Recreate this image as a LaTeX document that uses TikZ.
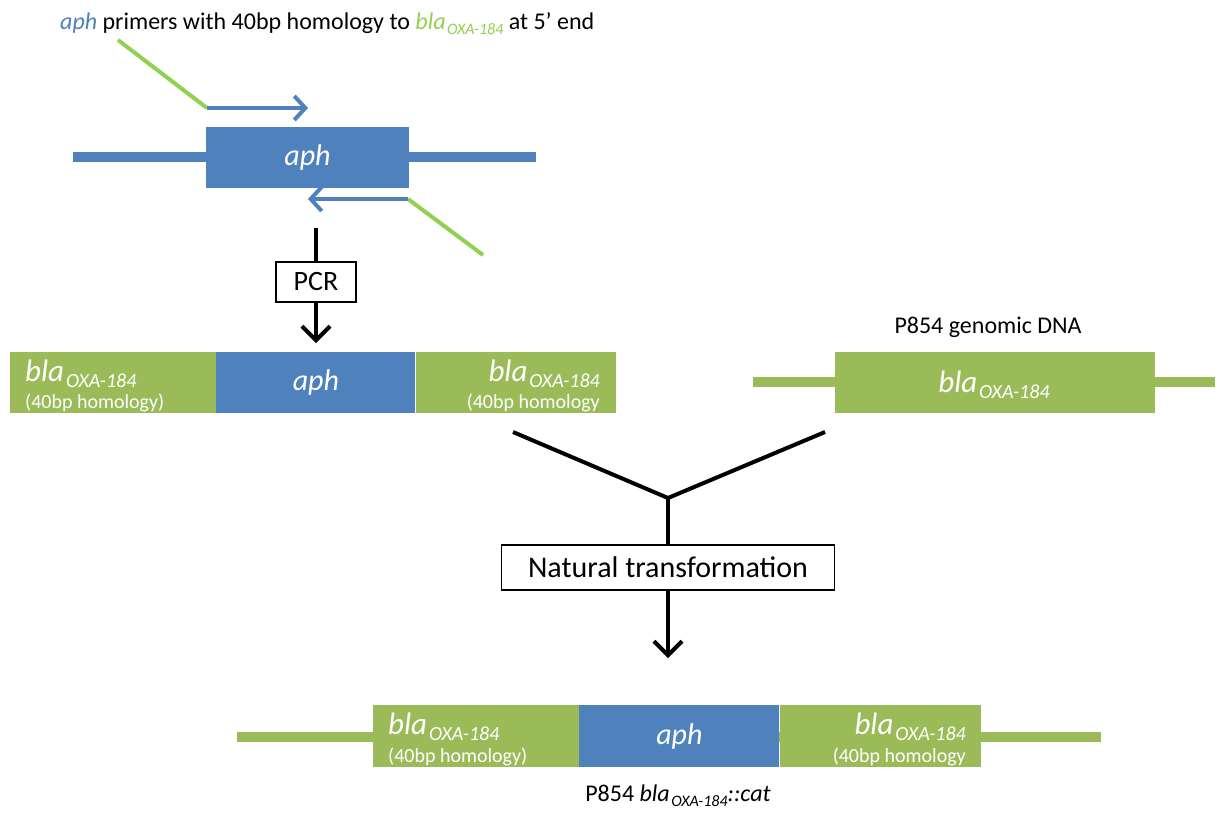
\documentclass[tikz,border=0pt]{standalone}
\usepackage{fontspec}
\setmainfont{Carlito}
\usetikzlibrary{arrows.meta,calc,positioning}
\definecolor{aphblue}{HTML}{4F81BD}
\definecolor{blagreen}{HTML}{9BBB59}
\definecolor{primgreen}{HTML}{92D050}
\newcommand{\fsz}[1]{\fontsize{#1}{#1}\selectfont}
\newcommand{\blagene}[2]{{\fsz{#1}\textit{bla}\kern0.06em\raisebox{-0.22em}{\fsz{#2}\textit{OXA-184}}}}% #1 = gene size, #2 = allele size
\tikzset{
  genebox/.style={inner sep=0pt,text=white,font=\fsz{30}\itshape},
  blabox/.style={genebox,fill=blagreen,minimum height=61},
  aphbox/.style={genebox,fill=aphblue,minimum height=61},
  dnaline/.style={line width=10pt,#1},
  primer/.style={line width=4pt,#1},
  primarr/.style={line width=4pt,aphblue,-{Straight Barb[length=11pt,width=24pt]}},
  flowbox/.style={draw,line width=1.2pt,inner sep=0pt,font=\fsz{28}},
  flowline/.style={line width=4pt},
  flowarr/.style={line width=4pt,-{Straight Barb[length=14pt,width=28pt]}},
  wlab/.style={text=white,inner sep=0pt},
  wlabS/.style={text=white,inner sep=0pt,font=\fsz{20}},
  clab/.style={inner sep=0pt,font=\fsz{24}},
}
\begin{document}
\begin{tikzpicture}[x=1pt,y=-1pt]
\useasboundingbox (0,0) rectangle (1220,812);
%% template: aph on its backbone, with the two tailed primers
\node[clab,anchor=base west] (title) at (60,29)
  {\textcolor{aphblue}{\textit{aph}} primers with 40bp homology to \textcolor{primgreen}{\blagene{24}{16}} at 5' end};
\coordinate (tplL) at (73,157);
\coordinate (tplR) at (536,157);
\draw[dnaline=aphblue] (tplL) -- (tplR);
\node[aphbox,minimum width=203] (aphT) at (307.5,157) {aph};
\coordinate (fwdTail) at (118,40);
\coordinate (fwdS) at (207,108);
\coordinate (fwdE) at (308,108);
\draw[primer=primgreen] (fwdTail) -- (fwdS);
\draw[primarr] (fwdS) -- (fwdE);
\coordinate (revTail) at (483,255);
\coordinate (revS) at (408,199);
\coordinate (revE) at (308,199);
\draw[primer=primgreen] (revTail) -- (revS);
\draw[primarr] (revS) -- (revE);
%% PCR step
\coordinate (pcrTop) at (316,228);
\node[flowbox,minimum width=80,minimum height=40] (pcr) at (316,282) {PCR};
\coordinate (pcrEnd) at (316,343);
\draw[flowline] (pcrTop) -- (pcr.north);
\draw[flowarr] (pcr.south) -- (pcrEnd);
%% PCR product: aph with 40bp bla arms
\node[blabox,minimum width=206] (prodL) at (113,382.5) {};
\node[aphbox,minimum width=199,right=0pt of prodL] (prodM) {aph};
\node[blabox,minimum width=200,right=0pt of prodM] (prodR) {};
\node[wlab,anchor=base west] (prodLa) at (25,381) {\blagene{31}{20}};
\node[wlabS,anchor=base west] (prodLb) at (25,408) {(40bp homology)};
\node[wlab,anchor=base east] (prodRa) at (600,381) {\blagene{31}{20}};
\node[wlabS,anchor=base east] (prodRb) at (600,408) {(40bp homology};
%% recipient chromosome
\node[clab] (gdna) at (988,327) {P854 genomic DNA};
\coordinate (gL) at (753,382);
\coordinate (gR) at (1215,382);
\draw[dnaline=blagreen] (gL) -- (gR);
\node[blabox,minimum width=320] (gbla) at (995,382.5) {};
\node[wlab,anchor=base] (gblaT) at (994,392) {\blagene{31}{20}};
%% both meet in natural transformation
\coordinate (yL) at (513,432);
\coordinate (yR) at (825,432);
\coordinate (yJ) at (668,498);
\node[flowbox,minimum width=333,minimum height=45,font=\fsz{30}] (nat) at (668,567.5) {Natural transformation};
\coordinate (natEnd) at (668,658);
\draw[flowline] (yL) -- (yJ) -- (yR);
\draw[flowline] (yJ) -- (nat.north);
\draw[flowarr] (nat.south) -- (natEnd);
%% mutant locus
\coordinate (mL) at (237,737);
\coordinate (mR) at (1101,737);
\draw[dnaline=blagreen] (mL) -- (mR);
\node[blabox,minimum width=206,minimum height=62] (recL) at (476,736) {};
\node[aphbox,minimum width=200,minimum height=62,right=0pt of recL] (recM) {aph};
\node[blabox,minimum width=201,minimum height=62,right=0pt of recM] (recR) {};
\node[wlab,anchor=base west] (recLa) at (388,734) {\blagene{31}{20}};
\node[wlabS,anchor=base west] (recLb) at (388,762) {(40bp homology)};
\node[wlab,anchor=base east] (recRa) at (966,734) {\blagene{31}{20}};
\node[wlabS,anchor=base east] (recRb) at (966,762) {(40bp homology};
\node[clab] (mutant) at (678,796) {P854 \blagene{24}{16}\textit{::cat}};
\end{tikzpicture}
\end{document}
